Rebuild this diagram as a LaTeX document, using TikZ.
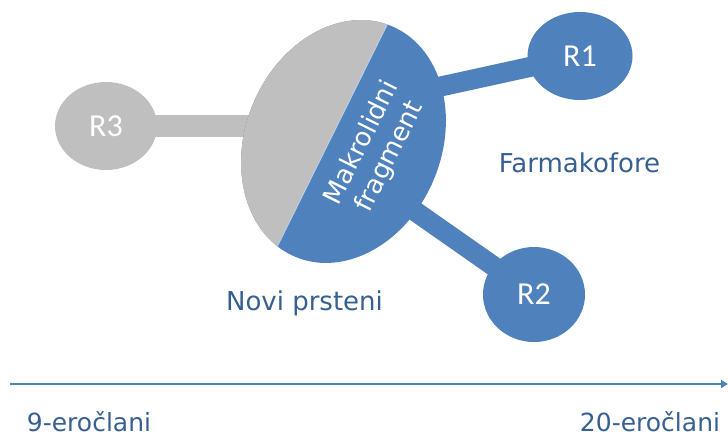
\documentclass[tikz,border=0pt]{standalone}
\usepackage{fontspec}
\setmainfont{DejaVu Sans}
\newfontfamily\rfont{Carlito}
\usetikzlibrary{positioning,shapes.geometric,arrows.meta,backgrounds}
\definecolor{accblue}{HTML}{4F81BD}
\definecolor{accgray}{HTML}{BFBFBF}
\definecolor{txtblue}{HTML}{376092}

\begin{document}
\begin{tikzpicture}[x=1pt,y=-1pt,every node/.style={inner sep=0pt,outer sep=0pt},
	blob/.style={ellipse,fill=accblue,text=white,font=\rfont\fontsize{32}{36}\selectfont},
	bar/.style={line width=20pt,accblue},
	lbl/.style={text=txtblue,anchor=base,font=\fontsize{26}{30}\selectfont}]
\useasboundingbox (0,0) rectangle (728,437);

\node[ellipse,fill=accblue,minimum width=196pt,minimum height=250pt,rotate=-22.5] (mf) at (343.5,141.5) {};
\begin{scope}
	\clip[rotate around={-22.5:(mf.center)}] (mf.center) ellipse [x radius=98,y radius=125];
	\fill[accgray] (394.4,10) -- (265.6,270) -- (230,270) -- (230,10) -- cycle;
	\draw[accblue!40!white,line width=1pt] (394.4,10) -- (265.6,270);
\end{scope}

\node[blob,fill=accgray,minimum width=102pt,minimum height=88pt] (R3) at (106,126) {R3};
\foreach \l/\x/\y/\w/\h in {R1/580/56/105/88,R2/534/294.5/102/95}
	\node[blob,minimum width=\w pt,minimum height=\h pt] (\l) at (\x,\y) {\l};

\coordinate (j1) at (400,95.4);
\coordinate (j2) at (390,193.7);
\begin{scope}[on background layer]
	\draw[bar,accgray,line width=22pt] (R3.center) -- (R3 -| mf.center);
	\foreach \a/\b in {R1/j1,R2/j2}
		\draw[bar] (\a.center) -- (\b);
\end{scope}

\node[rotate=63.6,text=white,align=center,font=\fontsize{26}{31}\selectfont] (mt) at (376,150) {Makrolidni\\fragment};
\node[lbl] (far) at (579.5,172) {Farmakofore};
\node[lbl] (novi) at (304.5,310) {Novi prsteni};

\coordinate (a0) at (10,384);
\coordinate (a1) at (728,384);
\draw[accblue,line width=2.2pt,-{Triangle[length=7pt,width=8pt]}] (a0) -- (a1);
\node[lbl,font=\fontsize{25}{30}\selectfont] (n9) at (89,431) {9-eročlani};
\node[lbl,font=\fontsize{25}{30}\selectfont] (n20) at (650,431) {20-eročlani};
\end{tikzpicture}
\end{document}
